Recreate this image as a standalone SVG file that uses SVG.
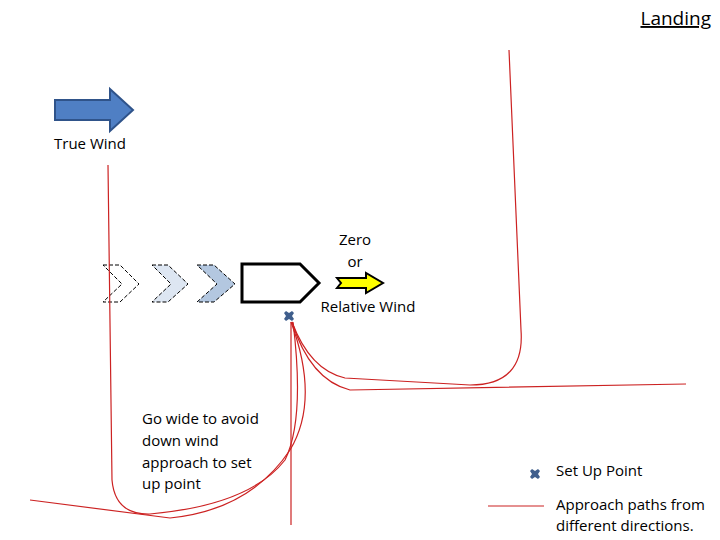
<svg xmlns="http://www.w3.org/2000/svg" width="720" height="540" viewBox="0 0 720 540">
<defs>
<style>
text{font-family:"Open Sans","Liberation Sans",sans-serif;font-size:15px;fill:#000}
.p{fill:none;stroke:#cc2222;stroke-width:1.2}
.ch{stroke:#000;stroke-width:1;stroke-dasharray:4,2}
</style>
<symbol id="sp" viewBox="-6 -6 12 12"><path d="M-5,-3 L-3,-5 L0,-3 L3,-5 L5,-3 L3,0 L5,3 L3,5 L0,3 L-3,5 L-5,3 L-3,0 Z" fill="#3f5e8c"/></symbol>
</defs>
<rect width="720" height="540" fill="#fff"/>
<g id="title"><text x="711" y="25" text-anchor="end" style="font-size:19px" text-decoration="underline">Landing</text></g>
<g id="truewind">
<path d="M55,100 H110 V89 L133,110 L110,131 V120 H55 Z" fill="#4f7fc4" stroke="#2f538a" stroke-width="2"/>
<text x="90" y="149" text-anchor="middle">True Wind</text>
</g>
<g id="chevrons">
<path d="M103,265 H120 L139,284 L120,302 H103 L122,284 Z" fill="#fff" class="ch"/>
<path d="M152,265 H168 L188,284 L168,302 H152 L171,284 Z" fill="#dde6f2" class="ch"/>
<path d="M197,265 H214 L235,284 L214,302 H197 L217,284 Z" fill="#b3c7e0" class="ch"/>
</g>
<g id="boat"><path d="M242,264 H300 L319,283 L300,302 H242 Z" fill="#fff" stroke="#000" stroke-width="3"/></g>
<g id="relwind">
<text x="355" y="245" text-anchor="middle">Zero</text>
<text x="355" y="267" text-anchor="middle">or</text>
<path d="M337,278 H366 V273 L383,283 L366,293 V288 H337 L341,283 Z" fill="#ffff00" stroke="#000" stroke-width="2"/>
<text x="368" y="312" text-anchor="middle">Relative Wind</text>
</g>
<g id="setup"><use href="#sp" x="283" y="310" width="12" height="12"/></g>
<g id="connectors">
<path class="p" d="M509,50 L521,330 Q525,385 470,385 L345,378 Q310,370 292,322"/>
<path class="p" d="M686,384 L350,390 Q310,380 292,322"/>
<path class="p" d="M108,165 L112,480 Q115,515 150,514 Q250,505 285,460 Q305,420 293,322"/>
<path class="p" d="M30,500 L170,518 Q250,510 290,450 Q320,400 291,322"/>
<path class="p" d="M291,525 L291,322"/>
</g>
<g id="note"><text x="142" y="424">Go wide to avoid</text><text x="142" y="446">down wind</text><text x="142" y="468">approach to set</text><text x="142" y="489">up point</text></g>
<g id="legend">
<use href="#sp" x="529" y="468" width="12" height="12"/>
<text x="556" y="476">Set Up Point</text>
<line x1="488" y1="506" x2="544" y2="506" stroke="#cc2222" stroke-width="1.2"/>
<text x="556" y="510">Approach paths from</text>
<text x="556" y="531">different directions.</text>
</g>
</svg>
